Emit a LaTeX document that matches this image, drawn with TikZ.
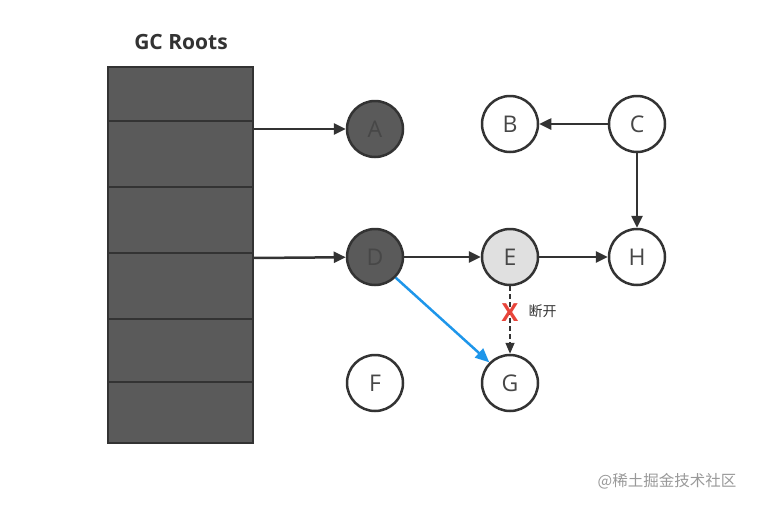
\documentclass[tikz,border=0pt]{standalone}
\usepackage{fontspec}
\setmainfont{Open Sans}
\newfontfamily\cjk{Noto Sans CJK SC}
\usetikzlibrary{arrows.meta}
\definecolor{stk}{HTML}{5A5A5A}
\definecolor{edge}{HTML}{333333}
\definecolor{lgray}{HTML}{E0E0E0}
\definecolor{blu}{HTML}{1E96EA}
\definecolor{xred}{HTML}{E8443A}
\tikzset{
  obj/.style={circle,draw=edge,line width=2.5pt,minimum size=56pt,inner sep=0pt,font=\fontsize{23}{23}\selectfont,text=edge!90},
  dark/.style={obj,fill=stk},
  light/.style={obj,fill=lgray},
  plain/.style={obj,fill=white},
  conn/.style={draw=edge,line width=2.5pt,-{Triangle[length=12pt,width=11pt]}},
  cell/.style={draw=edge,line width=2.5pt,fill=stk}
}
\begin{document}
\begin{tikzpicture}[x=1pt,y=-1pt]
\useasboundingbox (0,0) rectangle (768,504);
\node[font=\bfseries\fontsize{21}{21}\selectfont,text=edge] (title) at (181,42) {GC Roots};
\draw[cell] (108,67) rectangle (253,121);
\draw[cell] (108,121) rectangle (253,187);
\draw[cell] (108,187) rectangle (253,253);
\draw[cell] (108,253) rectangle (253,319);
\draw[cell] (108,319) rectangle (253,382);
\draw[cell] (108,382) rectangle (253,443);
\coordinate (r1) at (253,129);
\coordinate (r2) at (253,258);
\node[dark] (A) at (375,129) {A};
\node[plain] (B) at (510,124) {B};
\node[plain] (C) at (637,124) {C};
\node[dark] (D) at (375,257) {D};
\node[light] (E) at (510,257) {E};
\node[plain] (H) at (637,257) {H};
\node[plain] (F) at (375,383) {F};
\node[plain] (G) at (510,383) {G};
\draw[conn] (r1) -- (A);
\draw[conn] (r2) -- (D);
\draw[conn] (D) -- (E);
\draw[conn] (E) -- (H);
\draw[conn] (C) -- (B);
\draw[conn] (C) -- (H);
\draw[conn,draw=blu,-{Triangle[length=14pt,width=12pt]}] (D.-45) -- (G.135);
\draw[draw=edge,line width=1.5pt,dash pattern=on 5pt off 3pt,-{Triangle[length=11pt,width=9pt]}] (E) -- (G);
\node[text=xred,font=\bfseries\fontsize{25}{25}\selectfont] (X) at (510,313) {X};
\node[anchor=west,font=\cjk\fontsize{14}{14}\selectfont,text=edge] (lbl) at (525,311) {断开};
\node[font=\cjk\fontsize{15.5}{16}\selectfont,text=black!40] (wm) at (667,481) {@稀土掘金技术社区};
\end{tikzpicture}
\end{document}
